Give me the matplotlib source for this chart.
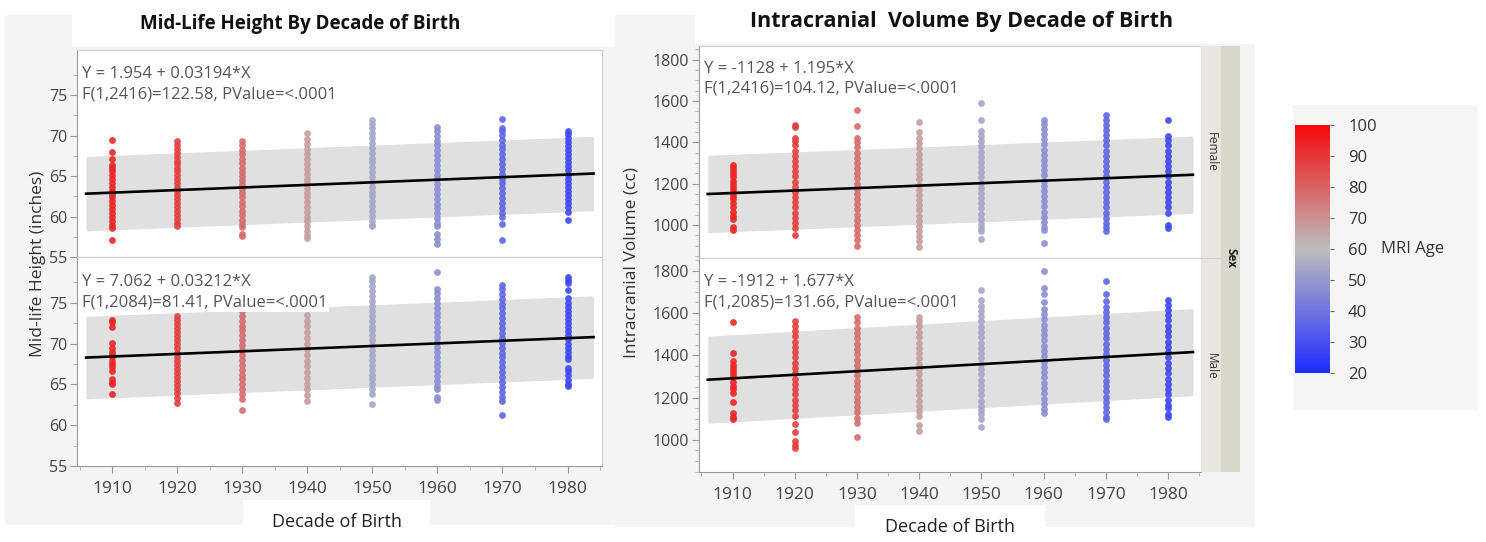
import numpy as np
import matplotlib
matplotlib.use("Agg")
import matplotlib.pyplot as plt
from matplotlib.colors import LinearSegmentedColormap, Normalize
from matplotlib.cm import ScalarMappable
from matplotlib.patches import Rectangle

plt.rcParams['font.family'] = ['Open Sans', 'DejaVu Sans']

# ---- data ----
decades = [1910, 1920, 1930, 1940, 1950, 1960, 1970, 1980]
mri_age = [94, 88, 78, 67, 54, 47, 36, 28]      # typical MRI age of each column

height_female = [
    [69.5, 68.0, 67.1, 66.4, 66.0, 65.6, 65.1, 64.6, 64.1, 63.7, 63.2, 62.8, 62.4, 61.9, 61.4, 60.9, 60.4, 60.0, 59.4, 58.9, 58.6, 57.1],
    [69.3, 68.9, 68.4, 67.9, 67.4, 66.9, 66.5, 66.0, 65.6, 65.1, 64.6, 64.1, 63.7, 63.2, 62.7, 62.2, 61.7, 61.2, 60.7, 60.2, 59.7, 59.2, 58.8],
    [69.3, 68.8, 68.2, 67.7, 67.1, 66.6, 66.0, 65.5, 65.0, 64.5, 64.0, 63.4, 62.9, 62.4, 61.8, 61.3, 60.7, 60.2, 59.6, 59.1, 58.7, 57.9, 57.6],
    [70.3, 69.6, 69.0, 68.4, 67.8, 67.1, 66.5, 65.9, 65.3, 64.7, 64.1, 63.5, 62.9, 62.4, 61.8, 61.2, 60.6, 60.0, 59.4, 58.8, 58.2, 57.7, 57.3],
    [72.0, 71.5, 70.9, 70.3, 69.7, 69.1, 68.5, 67.9, 67.3, 66.7, 66.1, 65.5, 64.9, 64.3, 63.7, 63.1, 62.5, 61.9, 61.3, 60.7, 60.1, 59.5, 59.0, 58.8],
    [71.1, 70.6, 70.0, 69.4, 68.8, 68.2, 67.6, 67.0, 66.4, 65.8, 65.2, 64.6, 64.0, 63.4, 62.8, 62.2, 61.6, 61.0, 60.4, 59.8, 59.2, 58.8, 57.8, 57.2, 56.6],
    [72.1, 71.0, 70.6, 70.1, 69.5, 68.9, 68.3, 67.7, 67.1, 66.5, 65.9, 65.3, 64.7, 64.1, 63.5, 62.9, 62.3, 61.7, 61.1, 60.5, 60.0, 59.1, 57.1],
    [70.6, 70.2, 69.7, 69.2, 68.7, 68.2, 67.7, 67.2, 66.7, 66.2, 65.7, 65.2, 64.7, 64.2, 63.7, 63.2, 62.7, 62.2, 61.7, 61.2, 60.6, 59.6],
]
height_male = [
    [72.9, 72.6, 72.0, 70.1, 69.4, 69.0, 68.6, 68.3, 67.9, 67.5, 67.1, 66.6, 65.6, 65.3, 65.0, 63.8],
    [76.0, 75.2, 74.4, 73.4, 72.9, 72.4, 71.9, 71.4, 70.9, 70.4, 69.9, 69.4, 68.9, 68.4, 67.9, 67.4, 66.9, 66.4, 65.9, 65.4, 64.9, 64.4, 63.9, 63.3, 62.7],
    [76.0, 75.0, 74.0, 73.4, 72.8, 72.2, 71.6, 71.0, 70.4, 69.8, 69.2, 68.6, 68.0, 67.4, 66.8, 66.2, 65.6, 65.0, 64.4, 63.8, 63.2, 61.8],
    [75.5, 74.5, 73.5, 72.8, 72.1, 71.4, 70.7, 70.0, 69.3, 68.6, 67.9, 67.2, 66.5, 65.8, 65.1, 64.4, 63.7, 63.0],
    [78.1, 77.6, 77.0, 76.4, 75.8, 75.2, 74.6, 74.0, 73.4, 72.8, 72.2, 71.6, 71.0, 70.4, 69.8, 69.2, 68.6, 68.0, 67.4, 66.8, 66.2, 65.6, 65.0, 64.4, 63.8, 62.6],
    [78.8, 76.7, 76.2, 75.6, 75.0, 74.4, 73.8, 73.2, 72.6, 72.0, 71.4, 70.8, 70.2, 69.6, 69.0, 68.4, 67.8, 67.2, 66.6, 66.0, 65.4, 64.8, 64.4, 63.5, 63.1],
    [77.2, 76.7, 76.1, 75.5, 74.9, 74.3, 73.7, 73.1, 72.5, 71.9, 71.3, 70.7, 70.1, 69.5, 68.9, 68.3, 67.7, 67.1, 66.5, 65.9, 65.3, 64.7, 64.1, 63.5, 63.0, 61.3],
    [78.1, 77.8, 77.4, 76.5, 75.6, 75.0, 74.5, 74.0, 73.5, 73.0, 72.5, 72.0, 71.5, 71.0, 70.5, 70.0, 69.5, 69.0, 68.5, 68.1, 67.0, 66.6, 66.2, 65.5, 65.0, 64.8],
]
icv_female = [
    [1290, 1275, 1260, 1245, 1230, 1215, 1200, 1185, 1170, 1155, 1140, 1125, 1105, 1085, 1065, 1045, 1030, 990, 975],
    [1485, 1475, 1420, 1405, 1385, 1360, 1335, 1310, 1285, 1260, 1235, 1210, 1185, 1160, 1135, 1110, 1085, 1060, 1035, 1010, 985, 950],
    [1555, 1480, 1420, 1400, 1375, 1350, 1325, 1300, 1275, 1250, 1225, 1200, 1175, 1150, 1125, 1100, 1075, 1050, 1025, 1000, 975, 950, 925, 900],
    [1500, 1450, 1420, 1395, 1370, 1345, 1320, 1295, 1270, 1245, 1220, 1195, 1170, 1145, 1120, 1095, 1070, 1045, 1020, 995, 970, 945, 920, 895],
    [1590, 1510, 1455, 1430, 1405, 1380, 1355, 1330, 1305, 1280, 1255, 1230, 1205, 1180, 1155, 1130, 1105, 1080, 1055, 1030, 1005, 985, 970, 930],
    [1510, 1490, 1465, 1440, 1415, 1390, 1365, 1340, 1315, 1290, 1265, 1240, 1215, 1190, 1165, 1140, 1115, 1090, 1065, 1040, 1015, 990, 975, 915],
    [1530, 1510, 1485, 1460, 1435, 1410, 1385, 1360, 1335, 1310, 1285, 1260, 1235, 1210, 1185, 1160, 1135, 1110, 1085, 1060, 1035, 1010, 990, 970],
    [1510, 1430, 1410, 1385, 1360, 1335, 1310, 1285, 1260, 1235, 1210, 1185, 1160, 1135, 1110, 1085, 1060, 1000, 985],
]
icv_male = [
    [1555, 1410, 1375, 1355, 1340, 1325, 1310, 1295, 1275, 1255, 1240, 1220, 1180, 1125, 1110, 1100],
    [1560, 1540, 1515, 1490, 1465, 1440, 1415, 1390, 1365, 1340, 1315, 1290, 1265, 1240, 1215, 1190, 1165, 1140, 1115, 1075, 1035, 995, 975, 960],
    [1580, 1555, 1530, 1505, 1480, 1455, 1430, 1405, 1380, 1355, 1330, 1305, 1280, 1255, 1230, 1205, 1180, 1155, 1130, 1105, 1080, 1015],
    [1580, 1560, 1540, 1510, 1485, 1460, 1435, 1410, 1385, 1360, 1335, 1310, 1285, 1260, 1235, 1210, 1185, 1160, 1135, 1115, 1070, 1040],
    [1710, 1660, 1635, 1610, 1585, 1560, 1535, 1510, 1485, 1460, 1435, 1410, 1385, 1360, 1335, 1310, 1285, 1260, 1235, 1210, 1185, 1160, 1140, 1120, 1100, 1060],
    [1800, 1720, 1690, 1650, 1620, 1595, 1570, 1545, 1520, 1495, 1470, 1445, 1420, 1395, 1370, 1345, 1320, 1295, 1270, 1245, 1220, 1195, 1170, 1145, 1125],
    [1750, 1690, 1655, 1630, 1605, 1580, 1555, 1530, 1505, 1480, 1455, 1430, 1405, 1380, 1355, 1330, 1305, 1280, 1255, 1230, 1205, 1180, 1155, 1130, 1110, 1100],
    [1660, 1640, 1615, 1590, 1565, 1540, 1515, 1490, 1465, 1440, 1415, 1390, 1365, 1340, 1315, 1290, 1265, 1240, 1215, 1190, 1165, 1150, 1120, 1110],
]

# fit results shown on the chart
fit_intercept = [1.954, 7.062, -1128, -1912]
fit_slope = [0.03194, 0.03212, 1.195, 1.677]
band_half = [4.6, 5.05, 187, 206]       # half width of the grey prediction band
fit_lines = [
    "Y = 1.954 + 0.03194*X\nF(1,2416)=122.58, PValue=<.0001",
    "Y = 7.062 + 0.03212*X\nF(1,2084)=81.41, PValue=<.0001",
    "Y = -1128 + 1.195*X\nF(1,2416)=104.12, PValue=<.0001",
    "Y = -1912 + 1.677*X\nF(1,2085)=131.66, PValue=<.0001",
]
fit_x = [1906, 1984]

W, H = 1486, 542
fig = plt.figure(figsize=(W / 100, H / 100), dpi=100, facecolor='white')

def px_axes(x0, y0, x1, y1, **kw):
    return fig.add_axes([x0 / W, 1 - y1 / H, (x1 - x0) / W, (y1 - y0) / H], **kw)

# screenshot-like backdrop
bg = px_axes(0, 0, W, H)
bg.set_xlim(0, W); bg.set_ylim(H, 0); bg.axis('off')
for (x0, y0, x1, y1, c) in [(5, 15, 615, 525, '#f4f4f4'), (72, 0, 615, 47, 'white'),
                            (243, 500, 430, 542, 'white'), (615, 15, 1255, 527, '#f4f4f4'),
                            (695, 0, 1255, 44, 'white'), (855, 505, 1045, 542, 'white'),
                            (1293, 105, 1478, 410, '#f5f5f5')]:
    bg.add_patch(Rectangle((x0, y0), x1 - x0, y1 - y0, color=c, lw=0))

cmap = LinearSegmentedColormap.from_list('bgr', ['#1f2cff', '#bdbdbd', '#f50a0a'])
norm = Normalize(20, 100)

def style(ax, ylim, major, minor, bottom):
    ax.set_xlim(1904.6, 1985.3)
    ax.set_ylim(*ylim)
    ax.set_yticks(major)
    ax.set_yticks(minor, minor=True)
    ax.set_xticks(decades)
    ax.set_xticks(np.arange(1905, 1986, 10), minor=True)
    for s in ['top', 'right']:
        ax.spines[s].set_color('#cfcfcf')
    ax.spines['left'].set_color('#999999')
    ax.spines['bottom'].set_color('#999999' if bottom else '#cfcfcf')
    ax.tick_params(axis='y', which='major', length=5, color='#999999', labelsize=11.5, labelcolor='#444444', pad=2)
    ax.tick_params(axis='y', which='minor', length=3, color='#aaaaaa')
    if bottom:
        ax.tick_params(axis='x', which='major', length=5, color='#999999', labelsize=12.5, labelcolor='#444444', pad=6)
        ax.tick_params(axis='x', which='minor', length=3, color='#aaaaaa')
    else:
        ax.tick_params(axis='x', which='both', length=0, labelbottom=False)

def panel(ax, cols, k, text_y):
    for d, age, vals in zip(decades, mri_age, cols):
        ax.scatter([d] * len(vals), vals, s=24, color=cmap(norm(age)), alpha=0.9, lw=0, zorder=3)
    xs = np.array(fit_x, dtype=float)
    ys = fit_intercept[k] + fit_slope[k] * xs
    ax.fill_between(xs, ys - band_half[k], ys + band_half[k], color='#e0e0e0', lw=0, zorder=1)
    ax.plot(xs, ys, color='black', lw=1.9, zorder=4)
    ax.text(0.01, text_y, fit_lines[k], transform=ax.transAxes, fontsize=12, color='#555555',
            va='center', linespacing=1.35, bbox=dict(facecolor='white', edgecolor='none', pad=1), zorder=5)

# left panel: height
ax1 = px_axes(77, 50, 602, 257)
ax2 = px_axes(77, 257, 602, 466)
panel(ax1, height_female, 0, 0.835)
panel(ax2, height_male, 1, 0.832)
style(ax1, (55, 80.6), [55, 60, 65, 70, 75], np.arange(57.5, 80, 2.5), False)
style(ax2, (55, 80.6), [55, 60, 65, 70, 75], np.arange(57.5, 80, 2.5), True)

# right panel: intracranial volume
ax3 = px_axes(699, 46, 1201, 258)
ax4 = px_axes(699, 258, 1201, 472)
panel(ax3, icv_female, 2, 0.845)
panel(ax4, icv_male, 3, 0.84)
style(ax3, (840, 1866), [1000, 1200, 1400, 1600, 1800], np.arange(850, 1866, 50), False)
style(ax4, (848, 1860), [1000, 1200, 1400, 1600, 1800], np.arange(850, 1860, 50), True)

# Sex strip
strip = px_axes(1201, 46, 1240, 472)
strip.set_xlim(1201, 1240); strip.set_ylim(472, 46); strip.axis('off')
strip.add_patch(Rectangle((1201, 46), 20, 426, color='#e8e7df', lw=0))
strip.add_patch(Rectangle((1221, 46), 19, 426, color='#d9d7c9', lw=0))
strip.plot([1201, 1221], [258, 258], color='#cfcfcf', lw=0.8)
strip.text(1211, 152, 'Female', rotation=-90, ha='center', va='center', fontsize=8.5, color='#333333')
strip.text(1211, 366, 'Male', rotation=-90, ha='center', va='center', fontsize=8.5, color='#333333')
strip.text(1230.5, 258, 'Sex', rotation=-90, ha='center', va='center', fontsize=8.5, fontweight='bold', color='#222222')

# titles and axis labels
fig.text(300 / W, 1 - 24 / H, 'Mid-Life Height By Decade of Birth', ha='center', va='center', fontsize=13.5, fontweight='bold', color='#111111')
fig.text(962 / W, 1 - 22 / H, 'Intracranial  Volume By Decade of Birth', ha='center', va='center', fontsize=15.5, fontweight='bold', color='#111111')
fig.text(38 / W, 1 - 264 / H, 'Mid-life Height (inches)', rotation=90, ha='center', va='center', fontsize=12.5, color='#333333')
fig.text(632 / W, 1 - 262 / H, 'Intracranial Volume (cc)', rotation=90, ha='center', va='center', fontsize=12.5, color='#333333')
fig.text(337 / W, 1 - 522 / H, 'Decade of Birth', ha='center', va='center', fontsize=13, color='#222222')
fig.text(950 / W, 1 - 527 / H, 'Decade of Birth', ha='center', va='center', fontsize=13, color='#222222')

# colour legend
cax = px_axes(1295, 125, 1330, 373)
cb = fig.colorbar(ScalarMappable(norm=norm, cmap=cmap), cax=cax, ticks=np.arange(20, 101, 10))
cb.outline.set_visible(False)
cax.tick_params(length=3, color='#666666', labelsize=12, labelcolor='#333333', pad=10)
fig.text(1381 / W, 1 - 249 / H, 'MRI Age', ha='left', va='center', fontsize=12, color='#333333')

fig.savefig('out.png', dpi=100, facecolor=fig.get_facecolor())
